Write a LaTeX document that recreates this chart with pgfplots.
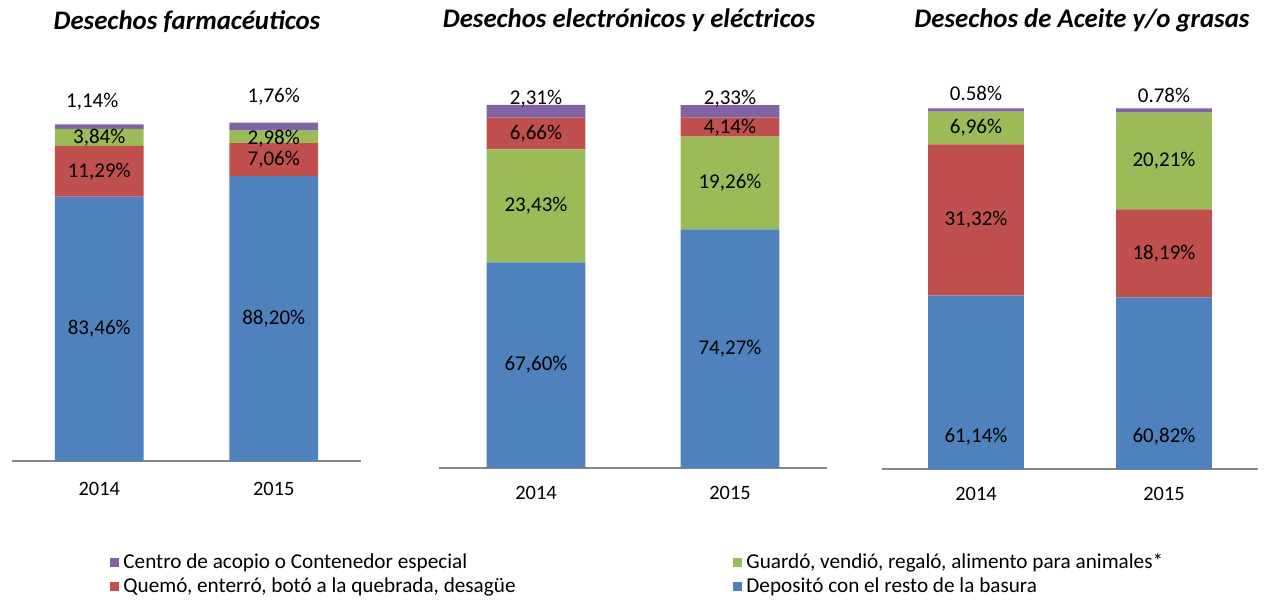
\documentclass[border=0pt]{standalone}
\usepackage{pgfplots}
\pgfplotsset{compat=1.18}
\usepackage{fontspec}
\setmainfont{Carlito}

\definecolor{cPurple}{HTML}{8064A2}
\definecolor{cGreen}{HTML}{9BBB59}
\definecolor{cRed}{HTML}{C0504D}
\definecolor{cBlue}{HTML}{4F81BD}
\definecolor{axisgray}{HTML}{868686}

\pgfplotsset{
  panel/.style={
    scale only axis,
    anchor=south west,
    ybar stacked,
    bar width=0.51,
    xmin=0.5, xmax=2.5, ymin=0, ymax=100,
    axis y line=none,
    axis x line*=bottom,
    x axis line style={draw=axisgray, line width=0.6pt},
    xtick={1,2},
    xticklabels={2014,2015},
    major tick length=0pt,
    xticklabel style={font=\fontsize{10.2}{12}\selectfont},
    clip=false,
  },
}
% posición de cada etiqueta (se dibuja después del eje, sobre las barras)
\newcommand{\pos}[3]{\coordinate (#1) at (axis cs:#2,#3);}
\tikzset{val/.style={font=\fontsize{10.5}{12}\selectfont, inner sep=0pt}}

\begin{document}
\begin{tikzpicture}
\path[use as bounding box] (0,0) rectangle (633pt,301pt);

% --- Desechos farmacéuticos ---
\begin{axis}[panel, at={(6pt,70.5pt)}, width=174.5pt, height=169.5pt,
  xticklabel style={yshift=-7pt}]
  \addplot[fill=cBlue, draw=none]   coordinates {(1,77.97) (2,84.07)};
  \addplot[fill=cRed, draw=none]    coordinates {(1,14.96) (2,9.73)};
  \addplot[fill=cGreen, draw=none]  coordinates {(1,5.01) (2,3.63)};
  \addplot[fill=cPurple, draw=none] coordinates {(1,1.39) (2,2.36)};
  \pos{a1}{1}{38.99}   \pos{a2}{2}{42.04}
  \pos{a3}{1}{85.45}   \pos{a4}{2}{88.94}
  \pos{a5}{1}{95.4}    \pos{a6}{2}{95.2}
  \pos{a7}{0.96}{105.9}\pos{a8}{2}{107.4}
\end{axis}
\node[val] at (a1) {83,46\%};
\node[val] at (a2) {88,20\%};
\node[val] at (a3) {11,29\%};
\node[val] at (a4) {7,06\%};
\node[val] at (a5) {3,84\%};
\node[val] at (a6) {2,98\%};
\node[val] at (a7) {1,14\%};
\node[val] at (a8) {1,76\%};

% --- Desechos electrónicos y eléctricos ---
\begin{axis}[panel, at={(219.5pt,67pt)}, width=194pt, height=181.5pt,
  xticklabel style={yshift=-5.5pt}]
  \addplot[fill=cBlue, draw=none]   coordinates {(1,56.67) (2,65.76)};
  \addplot[fill=cGreen, draw=none]  coordinates {(1,31.13) (2,25.51)};
  \addplot[fill=cRed, draw=none]    coordinates {(1,8.71) (2,5.23)};
  \addplot[fill=cPurple, draw=none] coordinates {(1,3.50) (2,3.50)};
  \pos{b1}{1}{28.34}   \pos{b2}{2}{32.88}
  \pos{b3}{1}{72.24}   \pos{b4}{2}{78.52}
  \pos{b5}{1}{92.16}   \pos{b6}{2}{93.89}
  \pos{b7}{1}{101.65}  \pos{b8}{2}{101.65}
\end{axis}
\node[val] at (b1) {67,60\%};
\node[val] at (b2) {74,27\%};
\node[val] at (b3) {23,43\%};
\node[val] at (b4) {19,26\%};
\node[val] at (b5) {6,66\%};
\node[val] at (b6) {4,14\%};
\node[val] at (b7) {2,31\%};
\node[val] at (b8) {2,33\%};

% --- Desechos de Aceite y/o grasas ---
\begin{axis}[panel, at={(441pt,66.5pt)}, width=188pt, height=180.35pt,
  xticklabel style={yshift=-5.5pt}]
  \addplot[fill=cBlue, draw=none]   coordinates {(1,48.05) (2,47.60)};
  \addplot[fill=cRed, draw=none]    coordinates {(1,41.97) (2,24.40)};
  \addplot[fill=cGreen, draw=none]  coordinates {(1,9.04) (2,26.78)};
  \addplot[fill=cPurple, draw=none] coordinates {(1,0.94) (2,1.22)};
  \pos{c1}{1}{8.9}     \pos{c2}{2}{8.9}
  \pos{c3}{1}{69.04}   \pos{c4}{2}{59.8}
  \pos{c5}{1}{94.54}   \pos{c6}{2}{85.39}
  \pos{c7}{1}{104}     \pos{c8}{2}{103.6}
\end{axis}
\node[val] at (c1) {61,14\%};
\node[val] at (c2) {60,82\%};
\node[val] at (c3) {31,32\%};
\node[val] at (c4) {18,19\%};
\node[val] at (c5) {6,96\%};
\node[val] at (c6) {20,21\%};
\node[val] at (c7) {0.58\%};
\node[val] at (c8) {0.78\%};

% títulos
\begin{scope}[every node/.style={font=\fontsize{13.4}{15}\selectfont\bfseries\itshape, inner sep=0pt}]
  \node at (93.5pt,290pt) {Desechos farmacéuticos};
  \node at (314.5pt,291pt) {Desechos electrónicos y eléctricos};
  \node at (541pt,291pt) {Desechos de Aceite y/o grasas};
\end{scope}

% leyenda
\begin{scope}[every node/.style={font=\fontsize{10.6}{12}\selectfont, inner sep=0pt, anchor=west}]
  \fill[cPurple] (55pt,17.5pt) rectangle (59.5pt,22pt);
  \node at (61.5pt,19.5pt) {Centro de acopio o Contenedor especial};
  \fill[cRed] (55pt,5.5pt) rectangle (59.5pt,10pt);
  \node at (61.5pt,7.5pt) {Quemó, enterró, botó a la quebrada, desagüe};
  \fill[cGreen] (366.5pt,17.5pt) rectangle (371pt,22pt);
  \node at (373pt,19.5pt) {Guardó, vendió, regaló, alimento para animales*};
  \fill[cBlue] (366.5pt,5.5pt) rectangle (371pt,10pt);
  \node at (373pt,7.5pt) {Depositó con el resto de la basura};
\end{scope}
\end{tikzpicture}
\end{document}
